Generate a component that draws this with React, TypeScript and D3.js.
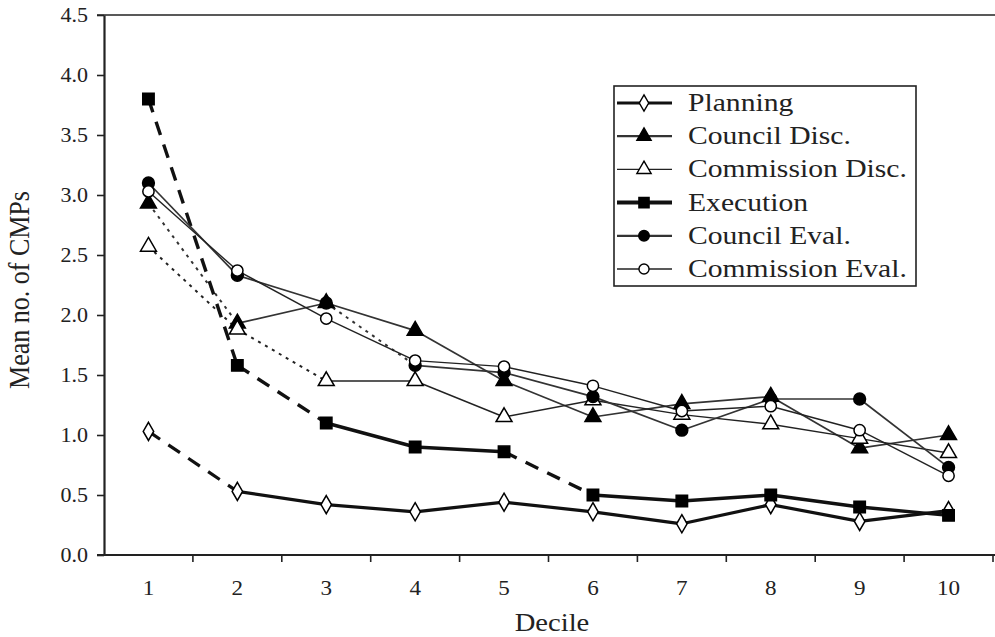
import * as d3 from 'd3';
import { useEffect, useRef } from 'react';

const deciles = ['1', '2', '3', '4', '5', '6', '7', '8', '9', '10'];
const yTicks = [0, 0.5, 1, 1.5, 2, 2.5, 3, 3.5, 4, 4.5];

const planning = [1.03, 0.53, 0.42, 0.36, 0.44, 0.36, 0.26, 0.42, 0.28, 0.37];
const councilDisc = [2.93, 1.93, 2.1, 1.87, 1.45, 1.15, 1.26, 1.32, 0.89, 1.0];
const commissionDisc = [2.57, 1.88, 1.45, 1.45, 1.15, 1.29, 1.17, 1.09, 0.97, 0.85];
const execution = [3.8, 1.58, 1.1, 0.9, 0.86, 0.5, 0.45, 0.5, 0.4, 0.33];
const councilEval = [3.1, 2.33, 2.1, 1.58, 1.52, 1.32, 1.04, 1.3, 1.3, 0.73];
const commissionEval = [3.03, 2.37, 1.97, 1.62, 1.57, 1.41, 1.2, 1.24, 1.04, 0.66];

// segment indexes (from decile i+1 to i+2) drawn broken
const planningBroken = [0];
const councilDiscBroken = [0];
const commissionDiscBroken = [0, 1];
const executionBroken = [0, 1, 4];
const councilEvalBroken = [2];
const commissionEvalBroken: number[] = [];

const FONT = '"Liberation Serif", "Times New Roman", serif';
const SX = 1.1;

const series = [
  { name: 'Planning', values: planning, broken: planningBroken, symbol: d3.symbolDiamond, size: 95, fill: '#fff', width: 3.2, color: '#111', dash: '14,10', legendWidth: 3 },
  { name: 'Council Disc.', values: councilDisc, broken: councilDiscBroken, symbol: d3.symbolTriangle, size: 110, fill: '#000', width: 1.7, color: '#333', dash: '3,5', legendWidth: 2.2 },
  { name: 'Commission Disc.', values: commissionDisc, broken: commissionDiscBroken, symbol: d3.symbolTriangle, size: 110, fill: '#fff', width: 1.4, color: '#222', dash: '3,5', legendWidth: 1.4 },
  { name: 'Execution', values: execution, broken: executionBroken, symbol: d3.symbolSquare, size: 130, fill: '#000', width: 3.4, color: '#111', dash: '14,10', legendWidth: 4 },
  { name: 'Council Eval.', values: councilEval, broken: councilEvalBroken, symbol: d3.symbolCircle, size: 110, fill: '#000', width: 1.7, color: '#333', dash: '3,5', legendWidth: 2.2 },
  { name: 'Commission Eval.', values: commissionEval, broken: commissionEvalBroken, symbol: d3.symbolCircle, size: 100, fill: '#fff', width: 1.4, color: '#222', dash: '3,5', legendWidth: 1.4 },
];

export default function App() {
  const ref = useRef<SVGSVGElement>(null);

  useEffect(() => {
    const width = 995, height = 637;
    const left = 104, right = 993, top = 15, bottom = 555;

    const svg = d3.select(ref.current);
    svg.selectAll('*').remove();
    svg.attr('width', width).attr('height', height);

    const x = d3.scaleBand().domain(deciles).range([left, right]);
    const cx = (d: string) => (x(d) as number) + x.bandwidth() / 2;
    const y = d3.scaleLinear().domain([0, 4.5]).range([bottom, top]);

    // frame: top line + axes
    svg.append('line')
      .attr('x1', left - 7).attr('x2', width).attr('y1', top).attr('y2', top)
      .attr('stroke', '#222').attr('stroke-width', 1.6);

    const yAxis = svg.append('g')
      .attr('transform', 'translate(' + left + ',0)')
      .call(d3.axisLeft(y).tickValues(yTicks).tickSize(7).tickSizeOuter(0).tickFormat(() => ''));
    yAxis.select('.domain').attr('stroke', '#222').attr('stroke-width', 2.2);
    yAxis.selectAll('.tick line').attr('stroke', '#222').attr('stroke-width', 1.6);

    svg.append('line')
      .attr('x1', left - 7).attr('x2', width).attr('y1', bottom).attr('y2', bottom)
      .attr('stroke', '#222').attr('stroke-width', 2.2);

    const bounds = deciles.map(d => x(d) as number).concat([right]);
    svg.selectAll('.xtick').data(bounds.slice(1)).enter().append('line')
      .attr('x1', d => d).attr('x2', d => d).attr('y1', bottom).attr('y2', bottom + 7)
      .attr('stroke', '#222').attr('stroke-width', 1.6);

    // tick labels
    svg.selectAll('.ylab').data(yTicks).enter().append('text')
      .attr('transform', d => 'translate(88,' + (y(d) + 7) + ') scale(' + SX + ',1)')
      .attr('text-anchor', 'end')
      .attr('font-family', FONT).attr('font-size', 20).attr('fill', '#222')
      .text(d => d3.format('.1f')(d));

    svg.selectAll('.xlab').data(deciles).enter().append('text')
      .attr('transform', d => 'translate(' + cx(d) + ',595) scale(' + SX + ',1)')
      .attr('text-anchor', 'middle')
      .attr('font-family', FONT).attr('font-size', 21).attr('fill', '#222')
      .text(d => d);

    svg.append('text')
      .attr('transform', 'translate(552,631) scale(' + SX + ',1)')
      .attr('text-anchor', 'middle')
      .attr('font-family', FONT).attr('font-size', 26).attr('fill', '#222')
      .text('Decile');

    svg.append('text')
      .attr('transform', 'translate(29,290) rotate(-90) scale(1,' + SX + ')')
      .attr('text-anchor', 'middle')
      .attr('font-family', FONT).attr('font-size', 26).attr('fill', '#222')
      .text('Mean no. of CMPs');

    // lines
    const line = d3.line<[number, number]>();
    series.forEach(s => {
      const pts: [number, number][] = s.values.map((v, i) => [cx(deciles[i]), y(v)]);
      for (let i = 0; i < pts.length - 1; i++) {
        const broken = s.broken.indexOf(i) >= 0;
        svg.append('path')
          .attr('d', line([pts[i], pts[i + 1]]))
          .attr('fill', 'none')
          .attr('stroke', s.color)
          .attr('stroke-width', broken && s.dash === '3,5' ? 2 : s.width)
          .attr('stroke-dasharray', broken ? s.dash : null);
      }
    });

    // markers
    series.forEach(s => {
      svg.append('g').selectAll('path').data(s.values).enter().append('path')
        .attr('transform', (v, i) => 'translate(' + cx(deciles[i]) + ',' + y(v) + ')')
        .attr('d', d3.symbol().type(s.symbol).size(s.size)())
        .attr('fill', s.fill)
        .attr('stroke', '#000').attr('stroke-width', 1.5);
    });

    // legend
    const lg = svg.append('g').attr('transform', 'translate(614,86)');
    lg.append('rect')
      .attr('width', 302).attr('height', 200)
      .attr('fill', '#fff').attr('stroke', '#222').attr('stroke-width', 1.6);
    const item = lg.selectAll('.item').data(series).enter().append('g')
      .attr('transform', (d, i) => 'translate(0,' + (17 + i * 33.2) + ')');
    item.append('line')
      .attr('x1', 3).attr('x2', 58).attr('y1', 0).attr('y2', 0)
      .attr('stroke', d => d.color).attr('stroke-width', d => d.legendWidth);
    item.append('path')
      .attr('transform', 'translate(30,0)')
      .attr('d', d => d3.symbol().type(d.symbol).size(d.size * 0.8)())
      .attr('fill', d => d.fill).attr('stroke', '#000').attr('stroke-width', 1.4);
    item.append('text')
      .attr('transform', 'translate(74,8) scale(1.14,1)')
      .attr('font-family', FONT).attr('font-size', 26).attr('fill', '#222')
      .text(d => d.name);
  }, []);

  return (
    <svg ref={ref} style={{ position: 'absolute', left: 0, top: 0, background: '#fff' }}></svg>
  );
}
